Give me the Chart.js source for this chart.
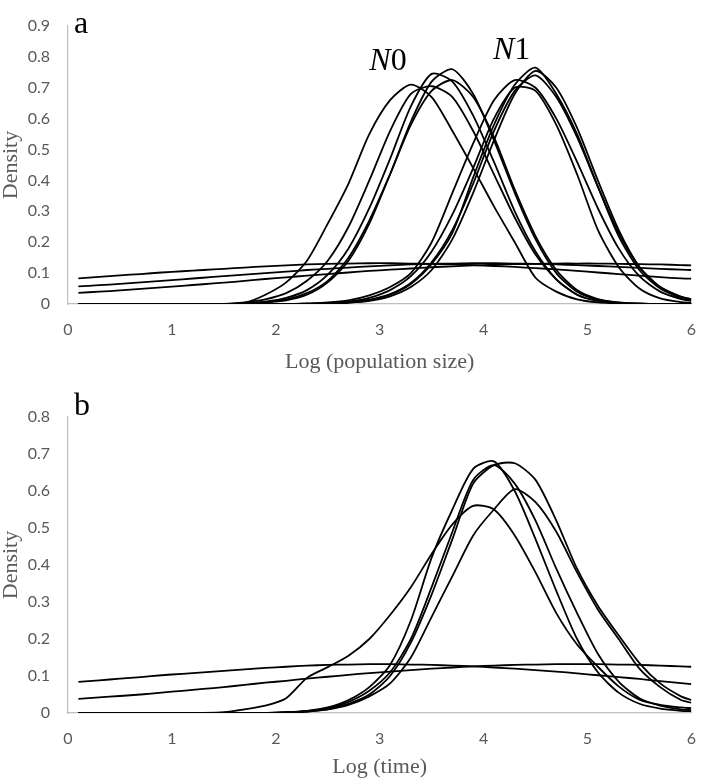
<!DOCTYPE html>
<html>
<head>
<meta charset="utf-8">
<script src="https://cdn.jsdelivr.net/npm/chart.js@4.4.1/dist/chart.umd.min.js"></script>
<style>
  body { margin: 0; background: #fff; }
  #wrap { position: relative; width: 714px; height: 781px; }
  #popChart { position: absolute; left: 0; top: 0; }
  #timeChart { position: absolute; left: 0; top: 390px; }
</style>
</head>
<body>
<div id="wrap">
  <canvas id="popChart" width="714" height="390"></canvas>
  <canvas id="timeChart" width="714" height="391"></canvas>
</div>
<script>
// shared x positions of the density estimates (log scale)
const xGrid = [0.1, 0.3, 0.5, 0.7, 0.9, 1.1, 1.3, 1.5, 1.7, 1.9, 2.1, 2.3, 2.5, 2.7, 2.9, 3.1,
  3.3, 3.5, 3.7, 3.9, 4.1, 4.3, 4.5, 4.7, 4.9, 5.1, 5.3, 5.5, 5.7, 5.9, 6.0];
const xTicks = [0, 1, 2, 3, 4, 5, 6];

// panel a: priors (flat) and posteriors of N0 / N1
const popPrior1 = [0.083,0.088,0.093,0.097,0.102,0.106,0.110,0.114,0.118,0.122,0.125,0.128,0.130,0.131,0.132,0.132,0.131,0.130,0.128,0.126,0.123,0.120,0.116,0.112,0.107,0.102,0.097,0.092,0.087,0.083,0.082];
const popPrior2 = [0.057,0.061,0.065,0.070,0.075,0.080,0.085,0.090,0.095,0.100,0.105,0.110,0.114,0.118,0.122,0.125,0.128,0.130,0.131,0.132,0.132,0.131,0.130,0.128,0.126,0.123,0.120,0.117,0.114,0.111,0.110];
const popPrior3 = [0.036,0.040,0.044,0.049,0.054,0.059,0.064,0.069,0.075,0.081,0.086,0.092,0.097,0.102,0.107,0.111,0.115,0.119,0.122,0.125,0.127,0.129,0.130,0.131,0.131,0.131,0.130,0.129,0.128,0.126,0.125];

const n0a = [0,0,0,0,0,0,0,0,0.004,0.03,0.07,0.14,0.26,0.39,0.55,0.66,0.71,0.67,0.56,0.44,0.316,0.2,0.085,0.04,0.015,0.005,0.002,0,0,0,0];
const n0b = [0,0,0,0,0,0,0,0,0.002,0.005,0.012,0.03,0.07,0.14,0.26,0.42,0.59,0.72,0.76,0.68,0.53,0.36,0.21,0.1,0.04,0.014,0.004,0.001,0,0,0];
const n0c = [0,0,0,0,0,0,0,0,0.003,0.008,0.02,0.045,0.095,0.18,0.31,0.47,0.64,0.745,0.72,0.61,0.46,0.3,0.17,0.08,0.03,0.01,0.003,0.001,0,0,0];
const n0d = [0,0,0,0,0,0,0,0,0.002,0.006,0.015,0.035,0.075,0.15,0.27,0.42,0.58,0.69,0.725,0.67,0.54,0.37,0.22,0.11,0.045,0.016,0.005,0.001,0,0,0];
const n0e = [0,0,0,0,0,0,0,0,0.005,0.015,0.035,0.075,0.14,0.25,0.4,0.56,0.68,0.705,0.67,0.56,0.42,0.28,0.16,0.08,0.03,0.01,0.003,0.001,0,0,0];

const n1a = [0,0,0,0,0,0,0,0,0,0,0,0.001,0.002,0.005,0.012,0.03,0.065,0.13,0.23,0.41,0.58,0.71,0.765,0.68,0.55,0.38,0.22,0.11,0.05,0.02,0.013];
const n1b = [0,0,0,0,0,0,0,0,0,0,0,0,0.001,0.004,0.01,0.025,0.055,0.11,0.21,0.36,0.53,0.68,0.755,0.7,0.57,0.4,0.24,0.12,0.055,0.022,0.014];
const n1c = [0,0,0,0,0,0,0,0,0,0,0,0.002,0.005,0.012,0.028,0.055,0.1,0.2,0.36,0.52,0.66,0.725,0.7,0.6,0.46,0.31,0.18,0.09,0.04,0.016,0.01];
const n1d = [0,0,0,0,0,0,0,0,0,0,0,0,0.003,0.008,0.02,0.045,0.09,0.17,0.29,0.44,0.6,0.7,0.69,0.58,0.42,0.24,0.12,0.05,0.018,0.006,0.004];
const n1e = [0,0,0,0,0,0,0,0,0,0,0,0,0.002,0.006,0.014,0.032,0.068,0.135,0.24,0.39,0.56,0.69,0.74,0.67,0.54,0.38,0.23,0.12,0.055,0.024,0.016];

// panel b: time
const timePrior1 = [0.084,0.088,0.093,0.097,0.102,0.106,0.110,0.114,0.118,0.122,0.125,0.128,0.130,0.131,0.132,0.132,0.131,0.130,0.128,0.126,0.123,0.120,0.116,0.112,0.107,0.102,0.097,0.092,0.086,0.081,0.078];
const timePrior2 = [0.038,0.042,0.046,0.050,0.055,0.060,0.065,0.070,0.076,0.082,0.087,0.093,0.098,0.103,0.108,0.112,0.116,0.120,0.123,0.126,0.128,0.130,0.131,0.132,0.132,0.132,0.131,0.130,0.128,0.126,0.125];
const timeWide = [0,0,0,0,0,0,0,0.002,0.01,0.02,0.04,0.095,0.124,0.155,0.2,0.265,0.34,0.43,0.51,0.56,0.55,0.48,0.38,0.27,0.185,0.125,0.072,0.036,0.022,0.015,0.013];
const time1 = [0,0,0,0,0,0,0,0,0,0,0.002,0.006,0.015,0.035,0.07,0.13,0.25,0.42,0.55,0.66,0.68,0.6,0.47,0.33,0.2,0.11,0.055,0.025,0.012,0.006,0.005];
const time2 = [0,0,0,0,0,0,0,0,0,0,0.001,0.004,0.01,0.025,0.05,0.1,0.19,0.32,0.47,0.62,0.67,0.675,0.63,0.52,0.39,0.29,0.21,0.135,0.08,0.045,0.035];
const time3 = [0,0,0,0,0,0,0,0,0,0,0.001,0.004,0.01,0.022,0.045,0.08,0.15,0.26,0.37,0.48,0.55,0.605,0.57,0.49,0.38,0.28,0.2,0.12,0.07,0.035,0.028];
const time4 = [0,0,0,0,0,0,0,0,0,0,0.002,0.005,0.013,0.03,0.06,0.11,0.2,0.34,0.49,0.63,0.67,0.62,0.52,0.39,0.27,0.16,0.085,0.04,0.02,0.01,0.008];

const popSeries = [popPrior1, popPrior2, popPrior3, n0a, n0b, n0c, n0d, n0e, n1a, n1b, n1c, n1d, n1e];
const timeSeries = [timePrior1, timePrior2, timeWide, time1, time2, time3, time4];

// text placed in data coordinates
const popTags = [{ italic: 'N', rest: '0', x: 2.9, y: 0.757 }, { italic: 'N', rest: '1', x: 4.09, y: 0.793 }];

const serif = '"Liberation Serif", "Times New Roman", serif';
const sans = 'Lato, "Open Sans", sans-serif';

const panelText = {
  id: 'panelText',
  afterDraw(chart, args, opts) {
    const { ctx, chartArea, scales } = chart;
    ctx.save();
    ctx.fillStyle = '#000';
    ctx.textBaseline = 'alphabetic';
    ctx.textAlign = 'left';
    ctx.font = '32px ' + serif;
    ctx.fillText(opts.letter, chartArea.left + 6, chartArea.top + opts.letterDy);
    (opts.tags || []).forEach(t => {
      let x = scales.x.getPixelForValue(t.x);
      const y = scales.y.getPixelForValue(t.y);
      ctx.font = 'italic 32px ' + serif;
      ctx.fillText(t.italic, x, y);
      x += ctx.measureText(t.italic).width;
      ctx.font = '32px ' + serif;
      ctx.fillText(t.rest, x, y);
    });
    ctx.restore();
  }
};

function makeChart(id, series, yMax, xTitle, opts) {
  const datasets = series.map(vals => ({
    data: vals.map((v, i) => ({ x: xGrid[i], y: v })),
    borderColor: '#000',
    borderWidth: 1.8,
    pointRadius: 0,
    tension: 0.25,
    fill: false
  }));
  return new Chart(document.getElementById(id).getContext('2d'), {
    type: 'line',
    data: { datasets: datasets },
    options: {
      responsive: false,
      animation: false,
      layout: { padding: { top: opts.padTop, right: 8, left: 0, bottom: 0 } },
      plugins: {
        legend: { display: false },
        tooltip: { enabled: false },
        panelText: { letter: opts.letter, letterDy: opts.letterDy, tags: opts.tags }
      },
      scales: {
        x: {
          type: 'linear',
          min: 0,
          max: 6,
          afterBuildTicks: s => { s.ticks = xTicks.map(v => ({ value: v })); },
          afterFit: s => { s.height = opts.xHeight; },
          grid: { display: false, drawTicks: false },
          border: { display: true, color: '#bfbfbf', width: 1.2 },
          ticks: { padding: 18, color: '#595959', font: { family: sans, size: 16, lineHeight: 1 } },
          title: {
            display: true, text: xTitle, color: '#595959',
            font: { family: serif, size: 22 },
            padding: { top: 0, bottom: opts.titlePad }
          }
        },
        y: {
          min: 0,
          max: yMax,
          afterFit: s => { s.width = 68; },
          grid: { display: false, drawTicks: false },
          border: { display: true, color: '#bfbfbf', width: 1.2 },
          ticks: { stepSize: 0.1, padding: 18, color: '#595959', font: { family: sans, size: 16, lineHeight: 1 } },
          title: {
            display: true, text: 'Density', color: '#595959',
            font: { family: serif, size: 22, lineHeight: 1 },
            padding: 0
          }
        }
      }
    },
    plugins: [panelText]
  });
}

makeChart('popChart', popSeries, 0.9, 'Log (population size)',
  { padTop: 8, xHeight: 86, titlePad: 15, letter: 'a', letterDy: 7, tags: popTags });
makeChart('timeChart', timeSeries, 0.8, 'Log (time)',
  { padTop: 27, xHeight: 68, titlePad: 1, letter: 'b', letterDy: -2, tags: [] });
</script>
</body>
</html>
